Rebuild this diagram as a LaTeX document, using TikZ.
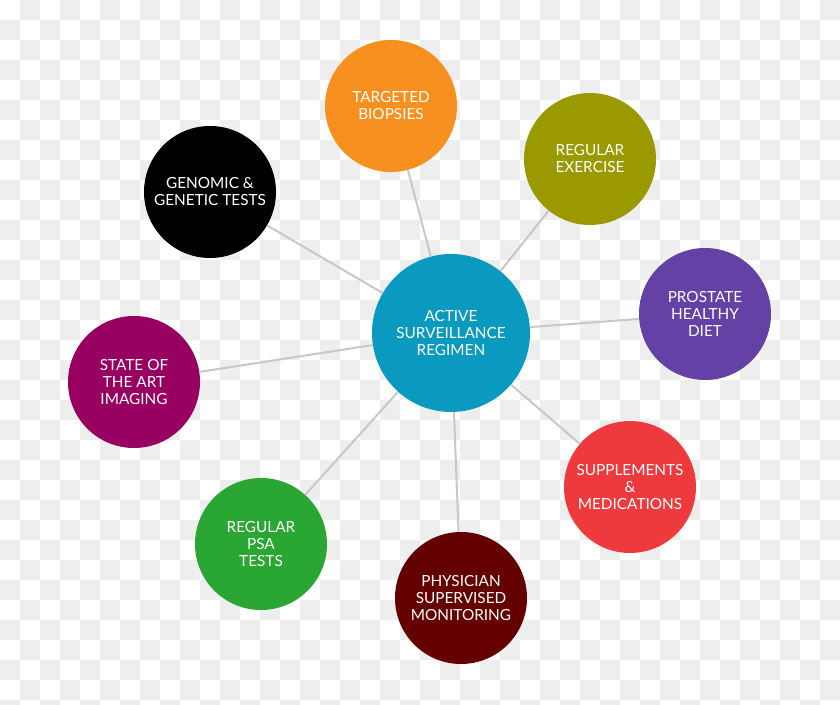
\documentclass[tikz,border=0pt]{standalone}
\usepackage{fontspec}
\setmainfont{Lato}
\definecolor{checker}{RGB}{238,238,238}
\definecolor{link}{RGB}{200,200,200}
\definecolor{hubblue}{RGB}{10,154,192}
\definecolor{orangec}{RGB}{247,144,30}
\definecolor{olivec}{RGB}{154,153,0}
\definecolor{purplec}{RGB}{100,65,165}
\definecolor{magentac}{RGB}{151,0,96}
\definecolor{redc}{RGB}{238,58,61}
\definecolor{greenc}{RGB}{42,166,50}
\definecolor{maroonc}{RGB}{101,0,0}
\begin{document}
\begin{tikzpicture}[x=0.75pt,y=-0.75pt,
	bubble/.style={circle,inner sep=0pt,minimum size=99pt,align=center,
		text=white,font=\fontsize{11.5}{12.75}\selectfont},
	hub/.style={bubble,minimum size=118.5pt,fill=hubblue},
	link/.style={draw=link,line width=1.5pt}]
		\useasboundingbox (0,0) rectangle (840,705);
		\clip (0,0) rectangle (840,705);
		% checkered background
		\fill[white] (0,0) rectangle (840,705);
		\foreach \i in {0,...,41}
		\foreach \j in {0,...,35}
		{\ifodd\numexpr\i+\j\relax
			\fill[checker] (20*\i,20*\j) rectangle +(20,20);
			\fi}
		% bubbles
		\node[hub] (regimen) at (451,333) {ACTIVE\\SURVEILLANCE\\REGIMEN};
		\node[bubble,fill=orangec] (biopsies) at (391,106) {TARGETED\\BIOPSIES};
		\node[bubble,fill=olivec] (exercise) at (590,159) {REGULAR\\EXERCISE};
		\node[bubble,fill=black] (genomic) at (210,192) {GENOMIC \&\\GENETIC TESTS};
		\node[bubble,fill=purplec] (diet) at (705,314) {PROSTATE\\HEALTHY\\DIET};
		\node[bubble,fill=magentac] (imaging) at (134,382) {STATE OF\\THE ART\\IMAGING};
		\node[bubble,fill=redc] (supplements) at (630,487) {SUPPLEMENTS\\\&\\MEDICATIONS};
		\node[bubble,fill=greenc] (psa) at (261,544) {REGULAR\\PSA\\TESTS};
		\node[bubble,fill=maroonc] (physician) at (461,598) {PHYSICIAN\\SUPERVISED\\MONITORING};
		% spokes
		\foreach \n in {biopsies,exercise,genomic,diet,imaging,supplements,psa,physician}
		\draw[link] (regimen) -- (\n);
\end{tikzpicture}
\end{document}
